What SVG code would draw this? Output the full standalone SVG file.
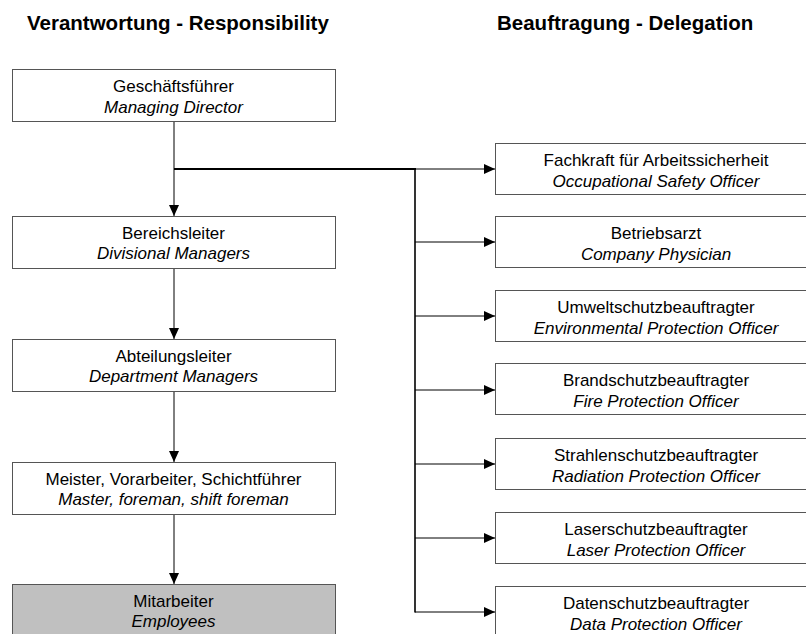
<svg xmlns="http://www.w3.org/2000/svg" width="806" height="634" viewBox="0 0 806 634">
<defs>
<marker id="arr" markerUnits="userSpaceOnUse" markerWidth="11" markerHeight="11" refX="11" refY="5.5" orient="auto">
<path d="M0,0.5 L11,5.5 L0,10.5 z" fill="#000"/>
</marker>
<style>
.box{fill:#fff;stroke:#555;stroke-width:1}
.grey{fill:#c0c0c0}
.t{font-family:"Liberation Sans",Arial,sans-serif;font-size:17px;fill:#000;text-anchor:middle}
.i{font-style:italic}
.h{font-family:"Liberation Sans",Arial,sans-serif;font-size:20.5px;font-weight:bold;fill:#000}
.c{fill:none;stroke:#000;stroke-width:1}
.a{marker-end:url(#arr)}
</style>
</defs>
<text class="h" x="27" y="30">Verantwortung - Responsibility</text>
<text class="h" x="497" y="30">Beauftragung - Delegation</text>
<g id="connectors">
<path class="c a" d="M174,121 V216"/>
<path class="c" style="stroke-width:2" d="M174,169 H416"/>
<path class="c" style="stroke-width:1.6" d="M415,169 V612.5"/>
<path class="c a" d="M415,169 H495"/>
<path class="c a" d="M415,242 H495"/>
<path class="c a" d="M415,316 H495"/>
<path class="c a" d="M415,390 H495"/>
<path class="c a" d="M415,464 H495"/>
<path class="c a" d="M415,538 H495"/>
<path class="c a" d="M415,612 H495"/>
<path class="c a" d="M174,268 V339"/>
<path class="c a" d="M174,392 V462"/>
<path class="c a" d="M174,515 V584"/>
</g>
<g id="n-gf"><rect class="box" x="12.5" y="69.5" width="323" height="52"/><text class="t" x="173.5" y="92">Geschäftsführer</text><text class="t i" x="173.5" y="112.5">Managing Director</text></g>
<g id="n-bl"><rect class="box" x="12.5" y="216.5" width="323" height="52"/><text class="t" x="173.5" y="238.5">Bereichsleiter</text><text class="t i" x="173.5" y="259">Divisional Managers</text></g>
<g id="n-al"><rect class="box" x="12.5" y="339.5" width="323" height="52"/><text class="t" x="173.5" y="361.5">Abteilungsleiter</text><text class="t i" x="173.5" y="382">Department Managers</text></g>
<g id="n-me"><rect class="box" x="12.5" y="462.5" width="323" height="52"/><text class="t" x="173.5" y="484.5">Meister, Vorarbeiter, Schichtführer</text><text class="t i" x="173.5" y="505">Master, foreman, shift foreman</text></g>
<g id="n-ma"><rect class="box grey" x="12.5" y="584.5" width="323" height="60"/><text class="t" x="173.5" y="606.5">Mitarbeiter</text><text class="t i" x="173.5" y="627">Employees</text></g>
<g id="n-fa"><rect class="box" x="495.5" y="143.5" width="322" height="51"/><text class="t" x="656" y="166">Fachkraft für Arbeitssicherheit</text><text class="t i" x="656" y="186.5">Occupational Safety Officer</text></g>
<g id="n-ba"><rect class="box" x="495.5" y="216.5" width="322" height="51"/><text class="t" x="656" y="239">Betriebsarzt</text><text class="t i" x="656" y="259.5">Company Physician</text></g>
<g id="n-um"><rect class="box" x="495.5" y="290.5" width="322" height="51"/><text class="t" x="656" y="313">Umweltschutzbeauftragter</text><text class="t i" x="656" y="333.5">Environmental Protection Officer</text></g>
<g id="n-br"><rect class="box" x="495.5" y="363.5" width="322" height="51"/><text class="t" x="656" y="386">Brandschutzbeauftragter</text><text class="t i" x="656" y="406.5">Fire Protection Officer</text></g>
<g id="n-st"><rect class="box" x="495.5" y="438.5" width="322" height="51"/><text class="t" x="656" y="461">Strahlenschutzbeauftragter</text><text class="t i" x="656" y="481.5">Radiation Protection Officer</text></g>
<g id="n-la"><rect class="box" x="495.5" y="512.5" width="322" height="51"/><text class="t" x="656" y="535">Laserschutzbeauftragter</text><text class="t i" x="656" y="555.5">Laser Protection Officer</text></g>
<g id="n-da"><rect class="box" x="495.5" y="586.5" width="322" height="60"/><text class="t" x="656" y="609">Datenschutzbeauftragter</text><text class="t i" x="656" y="629.5">Data Protection Officer</text></g>
</svg>
